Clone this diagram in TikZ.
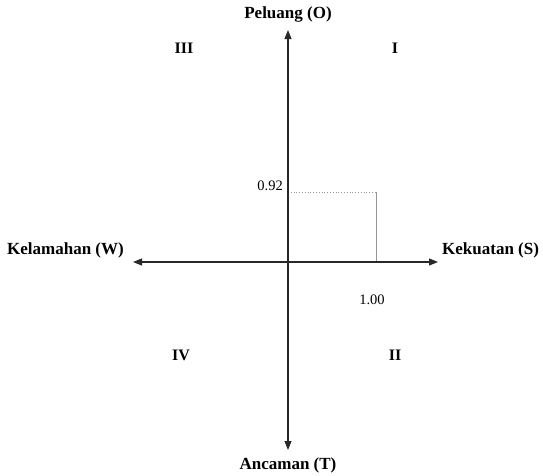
\documentclass[tikz,border=0pt]{standalone}
\usepackage{fontspec}
\setmainfont{Liberation Serif}
\usetikzlibrary{arrows.meta, positioning}
\definecolor{axisgray}{RGB}{40, 40, 40}
\definecolor{guidegray}{RGB}{150, 150, 150}
\tikzstyle{axis} = [{Triangle[length=9pt,width=7pt]}-{Triangle[length=9pt,width=7pt]}, line width=1.1pt, draw=axisgray]
\tikzstyle{guide} = [line width=0.8pt, draw=guidegray]
\tikzstyle{axislabel} = [font=\fontsize{17}{19}\selectfont\bfseries, inner sep=1pt]
\tikzstyle{quadrant} = [font=\fontsize{16}{18}\selectfont\bfseries, inner sep=1pt]
\tikzstyle{value} = [font=\fontsize{14.5}{16}\selectfont, inner sep=1pt]

\begin{document}
\begin{tikzpicture}[x=1pt, y=-1pt]
    \useasboundingbox (0, 0) rectangle (543, 475);

    % Axis ends
    \coordinate (top) at (288, 30);
    \coordinate (bottom) at (288, 450);
    \coordinate (west) at (133, 262);
    \coordinate (east) at (438, 262);
    \coordinate (origin) at (288, 262);
    \coordinate (ymark) at (288, 192);
    \coordinate (corner) at (376, 192);
    \coordinate (xmark) at (376, 262);

    % Axis labels
    \node[axislabel] (peluang) at (288, 14) {Peluang (O)};
    \node[axislabel] (ancaman) at (288, 465) {Ancaman (T)};
    \node[axislabel, anchor=east] (kelamahan) at (125, 250) {Kelamahan (W)};
    \node[axislabel, anchor=west] (kekuatan) at (441, 250) {Kekuatan (S)};

    % Quadrants
    \node[quadrant] (q3) at (184, 48) {III};
    \node[quadrant] (q1) at (395, 48) {I};
    \node[quadrant] (q4) at (181, 355) {IV};
    \node[quadrant] (q2) at (395, 355) {II};

    % Values
    \node[value, anchor=east] (yval) at (284, 186) {0.92};
    \node[value] (xval) at (372, 300) {1.00};

    % Guide lines
    \draw[guide, dotted] (ymark) -- (corner);
    \draw[guide] (corner) -- (xmark);

    % Axes
    \draw[axis] (bottom) -- (top);
    \draw[axis] (west) -- (east);
\end{tikzpicture}
\end{document}
